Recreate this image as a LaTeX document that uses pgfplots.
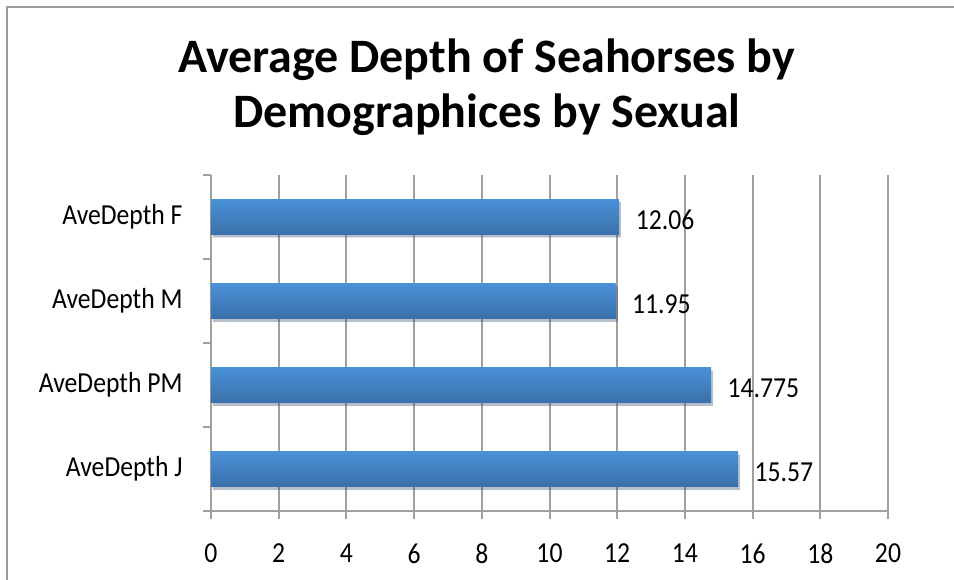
\documentclass[border=0pt]{standalone}
\usepackage{pgfplots}
\pgfplotsset{compat=1.18}
\usepackage{fontspec}
\setmainfont{Carlito}
\newfontfamily\lblfont{Carlito}[FakeStretch=0.885]
\usetikzlibrary{shadows}

\definecolor{barTop}{RGB}{74,145,216}
\definecolor{barBottom}{RGB}{58,112,170}
\definecolor{gridGray}{RGB}{160,160,160}
\definecolor{frameGray}{RGB}{155,155,155}

\pgfplotsset{
  depthbar/.style={draw=none, top color=barTop, bottom color=barBottom,
    drop shadow={shadow xshift=2pt, shadow yshift=-3pt, opacity=0.18, fill=black}},
}

\begin{document}
\begin{tikzpicture}
% canvas of the chart
\clip (0pt,0pt) rectangle (954pt,579pt);
\fill[white] (0pt,0pt) rectangle (954pt,579pt);
% chart frame
\draw[frameGray, line width=2.5pt] (7pt,-20pt) -- (7pt,572pt) -- (980pt,572pt);

% title
\node[anchor=base, font=\fontsize{48}{56}\selectfont\bfseries] at (486.5pt,506pt) {Average Depth of Seahorses by};
\node[anchor=base, font=\fontsize{48}{56}\selectfont\bfseries] at (487pt,451pt) {Demographices by Sexual};

\begin{axis}[
  at={(211pt,68pt)}, anchor=south west,
  scale only axis, width=677pt, height=336pt,
  xmin=0, xmax=20, ymin=-0.5, ymax=3.5,
  xtick={0,2,...,20},
  ytick={0,1,2,3},
  yticklabels={AveDepth J, AveDepth PM, AveDepth M, AveDepth F},
  minor ytick={-0.5,0.5,1.5,2.5,3.5},
  axis x line*=bottom, axis y line*=left,
  axis line style={gridGray, line width=2pt, -},
  tick align=outside,
  major tick length=8pt, minor tick length=8pt,
  tick style={gridGray, line width=2pt},
  major y tick style={draw=none},
  xmajorgrids,
  grid style={gridGray, line width=2pt},
  /pgf/number format/assume math mode=true,
  tick label style={font=\lblfont\fontsize{29}{34}\selectfont, black},
  xticklabel style={yshift=-21pt},
  yticklabel style={xshift=-17pt},
  xbar, bar width=35pt, bar shift=0pt,
  point meta=explicit symbolic,
  nodes near coords,
  nodes near coords style={font=\lblfont\fontsize{29}{34}\selectfont, black, anchor=west, xshift=13pt, yshift=-3pt},
]
\addplot[depthbar] coordinates {(15.57,0)  [15.57]};
\addplot[depthbar] coordinates {(14.775,1) [14.775]};
\addplot[depthbar] coordinates {(11.95,2)  [11.95]};
\addplot[depthbar] coordinates {(12.06,3)  [12.06]};
\end{axis}
\end{tikzpicture}
\end{document}
